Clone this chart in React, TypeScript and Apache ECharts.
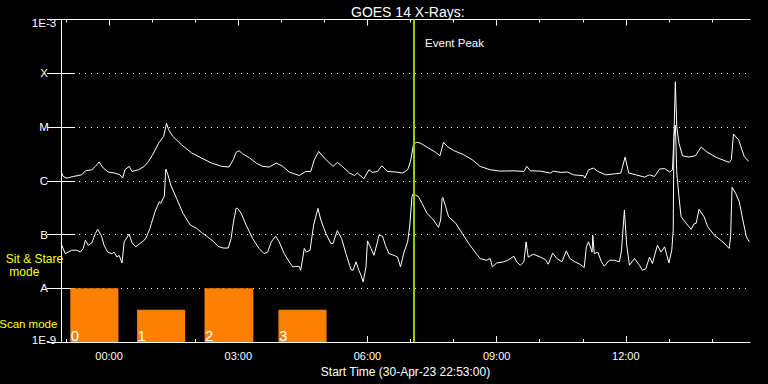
import React, { useEffect, useRef } from 'react';
import * as echarts from 'echarts';

const FONT = "'Liberation Sans', Arial, sans-serif";
const TITLE = 'GOES 14 X-Rays:';
const X_NAME = 'Start Time (30-Apr-23 22:53:00)';
const EVENT_LABEL = 'Event Peak';

// time is expressed in minutes after the start time (30-Apr-23 22:53:00)
const X_MIN = 0;
const X_MAX = 960;
const hourTicks = [7, 67, 127, 187, 247, 307, 367, 427, 487, 547, 607, 667, 727, 787, 847, 907];
const majorTicks = [67, 247, 427, 607, 787];
const majorTickLabels = ['00:00', '03:00', '06:00', '09:00', '12:00'];

const yTickLabels = ['1E-9', 'A', 'B', 'C', 'M', 'X', '1E-3'];

const eventPeak = 492;

// long channel (1-8 A), W/m^2
const longTimes = [
  0, 3, 8, 17, 29, 34, 43, 48, 53, 59, 66, 75, 82, 86, 89, 95, 99, 108, 116, 122,
  129, 136, 143, 147, 150, 156, 168, 182, 196, 210, 224, 234, 240, 244, 248, 253, 263, 272, 281, 290,
  300, 309, 318, 332, 341, 348, 353, 359, 367, 379, 385, 392, 402, 409, 413, 422, 429, 434, 441, 447,
  455, 467, 476, 483, 487, 491, 495, 501, 512, 522, 528, 533, 538, 547, 561, 573, 584, 598, 612, 631,
  645, 649, 654, 668, 682, 686, 696, 706, 714, 728, 730, 735, 742, 748, 759, 773, 780, 786, 791, 801,
  813, 820, 827, 834, 841, 848, 852, 854, 856, 858, 861, 866, 875, 884, 892, 899, 912, 931, 934, 937,
  944, 952, 958,
];
const longFlux = [
  1.5e-6, 1.2e-6, 1.12e-6, 1.2e-6, 1.29e-6, 1.53e-6, 1.6e-6, 1.85e-6, 2.23e-6, 1.72e-6,
  1.45e-6, 1.39e-6, 1.29e-6, 1.12e-6, 1.6e-6, 1.85e-6, 1.49e-6, 1.6e-6, 1.85e-6, 2.29e-6,
  3.28e-6, 5.0e-6, 6.67e-6, 1.17e-5, 8.88e-6, 6.67e-6, 4.67e-6, 3.28e-6, 2.64e-6, 2.13e-6,
  1.85e-6, 1.8e-6, 2.46e-6, 3.37e-6, 3.62e-6, 3.18e-6, 2.64e-6, 2.13e-6, 1.85e-6, 1.8e-6,
  2.13e-6, 1.85e-6, 1.45e-6, 1.25e-6, 1.49e-6, 1.49e-6, 2.46e-6, 3.51e-6, 2.64e-6, 1.85e-6,
  2.19e-6, 1.85e-6, 1.39e-6, 1.25e-6, 1.39e-6, 1.09e-6, 1.6e-6, 1.43e-6, 1.49e-6, 1.9e-6,
  1.49e-6, 1.45e-6, 1.39e-6, 1.6e-6, 2.29e-6, 4.67e-6, 5.2e-6, 5.0e-6, 4.06e-6, 3.37e-6,
  2.92e-6, 5.2e-6, 4.35e-6, 3.66e-6, 3.05e-6, 2.46e-6, 1.85e-6, 1.6e-6, 1.51e-6, 1.53e-6,
  1.49e-6, 1.85e-6, 1.53e-6, 1.51e-6, 1.39e-6, 1.51e-6, 1.43e-6, 1.45e-6, 1.29e-6, 1.24e-6,
  1.12e-6, 1.6e-6, 1.72e-6, 1.49e-6, 1.29e-6, 1.35e-6, 1.39e-6, 2.76e-6, 1.39e-6, 1.29e-6,
  1.17e-6, 1.29e-6, 1.2e-6, 1.65e-6, 1.69e-6, 1.45e-6, 1.6e-6, 6.67e-6, 6.95e-5, 1.0e-5,
  5.0e-6, 2.92e-6, 2.76e-6, 2.92e-6, 4.24e-6, 3.51e-6, 2.76e-6, 2.19e-6, 2.46e-6, 7.4e-6,
  5.79e-6, 2.83e-6, 2.29e-6,
];

// short channel (0.5-4 A), W/m^2
const shortTimes = [
  0, 6, 10, 15, 22, 27, 31, 34, 38, 43, 48, 51, 56, 60, 65, 71, 74, 78, 81, 85,
  88, 95, 99, 104, 110, 116, 119, 124, 126, 131, 134, 137, 139, 144, 146, 149, 153, 161, 170, 180,
  189, 196, 203, 212, 219, 226, 233, 237, 240, 244, 246, 251, 258, 267, 276, 283, 288, 293, 299, 304,
  311, 318, 323, 327, 332, 334, 339, 342, 347, 352, 358, 362, 369, 376, 379, 385, 391, 397, 404, 407,
  411, 415, 418, 421, 425, 427, 432, 436, 441, 443, 448, 452, 457, 464, 469, 473, 478, 483, 486, 489,
  491, 494, 498, 503, 510, 519, 526, 529, 531, 532, 536, 540, 550, 559, 568, 577, 584, 593, 598, 601,
  607, 617, 624, 631, 635, 640, 645, 648, 651, 658, 668, 675, 679, 685, 691, 698, 704, 709, 716, 723,
  729, 732, 735, 740, 741, 743, 748, 753, 757, 764, 771, 778, 781, 785, 788, 792, 799, 806, 810, 815,
  820, 824, 831, 836, 841, 847, 851, 853, 854, 856, 858, 861, 864, 871, 878, 882, 885, 889, 896, 901,
  910, 922, 931, 933, 935, 940, 945, 950, 955, 959,
];
const shortFlux = [
  6.8e-8, 4.4e-8, 4.7e-8, 5.1e-8, 5.1e-8, 4.7e-8, 5.5e-8, 7.8e-8, 6.3e-8, 7.0e-8,
  1.05e-7, 1.25e-7, 9.7e-8, 6.3e-8, 4.7e-8, 4.4e-8, 4.7e-8, 3.8e-8, 4.1e-8, 2.95e-8,
  7.3e-8, 1.02e-7, 7.0e-8, 5.9e-8, 6.8e-8, 7.8e-8, 9.0e-8, 1.3e-7, 1.62e-7, 2.65e-7,
  3.3e-7, 4.08e-7, 3.8e-7, 5.2e-7, 1.65e-6, 1.29e-6, 8.3e-7, 4.7e-7, 2.48e-7, 1.5e-7,
  1.3e-7, 1.08e-7, 9.3e-8, 7.5e-8, 6.0e-8, 5.6e-8, 5.6e-8, 8.4e-8, 1.62e-7, 3.07e-7,
  3.07e-7, 2.48e-7, 1.5e-7, 8.4e-8, 5.5e-8, 4.4e-8, 4.7e-8, 7.3e-8, 9.3e-8, 7.3e-8,
  4.4e-8, 3.1e-8, 2.5e-8, 2.55e-8, 2.55e-8, 2.16e-8, 5.5e-8, 4.7e-8, 5.1e-8, 1.5e-7,
  3.07e-7, 1.86e-7, 1.05e-7, 6.8e-8, 6.8e-8, 1.18e-7, 8.4e-8, 4.4e-8, 2.23e-8, 2.16e-8,
  3.1e-8, 2.16e-8, 1.75e-8, 1.31e-8, 2.5e-8, 7.6e-8, 5.5e-8, 4.1e-8, 7.3e-8, 9.7e-8,
  9.3e-8, 6.3e-8, 4.4e-8, 4.1e-8, 3.8e-8, 2.5e-8, 4.7e-8, 7.3e-8, 1.5e-7, 5.05e-7,
  5.85e-7, 5.4e-7, 5.05e-7, 3.8e-7, 2.48e-7, 1.86e-7, 1.36e-7, 1.86e-7, 4.7e-7, 4.9e-7,
  3.3e-7, 2.14e-7, 1.62e-7, 1.05e-7, 6.8e-8, 4.7e-8, 3.57e-8, 3.32e-8, 3.57e-8, 2.5e-8,
  2.95e-8, 3.1e-8, 3.4e-8, 3.94e-8, 3.1e-8, 2.68e-8, 3.1e-8, 7.3e-8, 3.8e-8, 4.29e-8,
  3.8e-8, 3.4e-8, 2.8e-8, 4.5e-8, 3.57e-8, 3.1e-8, 4.95e-8, 3.57e-8, 3.1e-8, 2.8e-8,
  2.43e-8, 5.9e-8, 7.3e-8, 4.7e-8, 9.7e-8, 4.4e-8, 4.7e-8, 3.1e-8, 2.57e-8, 3.32e-8,
  3.32e-8, 3.1e-8, 5.1e-8, 2.86e-7, 6.8e-8, 2.68e-8, 3.57e-8, 2.68e-8, 2.16e-8, 2.32e-8,
  3.8e-8, 2.88e-8, 6.3e-8, 4.7e-8, 5.9e-8, 2.95e-8, 5.1e-8, 1.2e-7, 6.67e-6, 1.09e-5,
  1.39e-6, 5.05e-7, 2.14e-7, 1.62e-7, 1.25e-7, 1.57e-7, 1.62e-7, 2.94e-7, 2.14e-7, 1.4e-7,
  9.8e-8, 7.3e-8, 5.5e-8, 9.0e-8, 7.55e-7, 5.85e-7, 4.08e-7, 1.86e-7, 9.0e-8, 7.3e-8,
];

// scan mode blocks
const scanStart = [13, 106, 200, 303];
const scanEnd = [80, 173, 268, 370];
const scanLevel = [1e-8, 4e-9, 1e-8, 4e-9];
const scanLabels = ['0', '1', '2', '3'];

const WHITE = '#ffffff';
const ORANGE = '#ff8000';
const GREEN = '#99cc00';
const YELLOW = '#ffff00';

export default function App() {
  const ref = useRef<HTMLDivElement>(null);

  useEffect(() => {
    if (!ref.current) return;
    const chart = echarts.init(ref.current, null, { renderer: 'svg' });

    const xBase = {
      type: 'value',
      min: X_MIN,
      max: X_MAX,
      splitLine: { show: false },
    };

    const option: any = {
      animation: false,
      backgroundColor: '#000000',
      title: {
        text: TITLE,
        left: 346,
        top: 0,
        textStyle: { color: WHITE, fontSize: 14, fontWeight: 'normal', fontFamily: FONT },
      },
      grid: { left: 61, right: 18, top: 19.5, bottom: 42, containLabel: false, outerBoundsMode: 'none' },
      xAxis: [
        {
          ...xBase,
          position: 'bottom',
          name: X_NAME,
          nameLocation: 'middle',
          nameGap: 18,
          nameTextStyle: { color: WHITE, fontSize: 12, fontFamily: FONT },
          axisLine: { show: true, lineStyle: { color: WHITE, width: 1 } },
          axisTick: { show: true, inside: true, length: 6, customValues: majorTicks, lineStyle: { color: WHITE } },
          axisLabel: {
            show: true,
            customValues: majorTicks,
            margin: 8,
            color: WHITE,
            fontSize: 11,
            fontFamily: FONT,
            formatter: (v: number) => majorTickLabels[majorTicks.indexOf(Math.round(v))] ?? '',
          },
        },
        {
          ...xBase,
          position: 'bottom',
          axisLine: { show: false },
          axisTick: { show: true, inside: true, length: 3, customValues: hourTicks, lineStyle: { color: WHITE } },
          axisLabel: { show: false },
        },
        {
          ...xBase,
          position: 'top',
          axisLine: { show: true, lineStyle: { color: WHITE, width: 1 } },
          axisTick: { show: true, inside: true, length: 6, customValues: majorTicks, lineStyle: { color: WHITE } },
          axisLabel: { show: false },
        },
        {
          ...xBase,
          position: 'top',
          axisLine: { show: false },
          axisTick: { show: true, inside: true, length: 3, customValues: hourTicks, lineStyle: { color: WHITE } },
          axisLabel: { show: false },
        },
      ],
      yAxis: [
        {
          type: 'log',
          logBase: 10,
          min: 1e-9,
          max: 1e-3,
          interval: 1,
          position: 'left',
          axisLine: { show: true, lineStyle: { color: WHITE, width: 1 } },
          axisTick: { show: true, inside: true, length: 14, lineStyle: { color: WHITE } },
          axisLabel: {
            show: true,
            color: WHITE,
            fontSize: 11.5,
            fontFamily: FONT,
            align: 'center',
            margin: 17,
            formatter: (v: number) => {
              const i = Math.round(Math.log10(v)) + 9;
              const t = yTickLabels[i] ?? '';
              if (i === yTickLabels.length - 1) return '{top|' + t + '}';
              if (i === 0) return '{bot|' + t + '}';
              return t;
            },
            rich: {
              top: { color: WHITE, fontSize: 11.5, fontFamily: FONT, padding: [7, 0, 0, 0] },
              bot: { color: WHITE, fontSize: 11.5, fontFamily: FONT, padding: [0, 0, 4, 0] },
            },
          },
          splitLine: { show: true, lineStyle: { color: WHITE, width: 1, type: [1, 5] } },
        },
        {
          type: 'log',
          logBase: 10,
          min: 1e-9,
          max: 1e-3,
          interval: 1,
          position: 'right',
          axisLine: { show: true, lineStyle: { color: WHITE, width: 1 } },
          axisTick: { show: true, inside: true, length: 14, lineStyle: { color: WHITE } },
          axisLabel: { show: false },
          splitLine: { show: false },
        },
      ],
      series: [
        {
          type: 'custom',
          name: 'scan',
          xAxisIndex: 0,
          yAxisIndex: 0,
          encode: { x: [0, 1], y: 2 },
          data: scanStart.map((s, i) => [s, scanEnd[i], scanLevel[i]]),
          renderItem: (params: any, api: any) => {
            const p0 = api.coord([api.value(0), api.value(2)]);
            const p1 = api.coord([api.value(1), 1e-9]);
            return {
              type: 'group',
              children: [
                {
                  type: 'rect',
                  shape: { x: p0[0], y: p0[1], width: p1[0] - p0[0], height: p1[1] - p0[1] },
                  style: { fill: ORANGE },
                },
                {
                  type: 'text',
                  style: {
                    text: scanLabels[params.dataIndex],
                    x: p0[0] + 0.5,
                    y: p1[1] + 1,
                    fill: WHITE,
                    fontSize: 15,
                    fontFamily: FONT,
                    align: 'left',
                    verticalAlign: 'bottom',
                  },
                },
              ],
            };
          },
        },
        {
          type: 'line',
          name: 'long',
          xAxisIndex: 0,
          yAxisIndex: 0,
          showSymbol: false,
          symbol: 'none',
          lineStyle: { color: WHITE, width: 1 },
          data: longTimes.map((t, i) => [t, longFlux[i]]),
          markLine: {
            silent: true,
            symbol: 'none',
            label: { show: false },
            lineStyle: { color: GREEN, width: 2, type: 'solid' },
            data: [{ xAxis: eventPeak }],
          },
        },
        {
          type: 'line',
          name: 'short',
          xAxisIndex: 0,
          yAxisIndex: 0,
          showSymbol: false,
          symbol: 'none',
          lineStyle: { color: WHITE, width: 1 },
          data: shortTimes.map((t, i) => [t, shortFlux[i]]),
        },
      ],
    };

    chart.setOption(option);

    const peakX = chart.convertToPixel({ xAxisIndex: 0 }, eventPeak) as number;
    chart.setOption({
      graphic: [
        {
          type: 'text',
          x: peakX + 11,
          y: 42.5,
          style: { text: EVENT_LABEL, fill: WHITE, fontSize: 11.5, fontFamily: FONT, verticalAlign: 'middle' },
        },
        {
          type: 'text',
          x: 34.5,
          y: 258.5,
          style: { text: 'Sit & Stare', fill: YELLOW, fontSize: 12, fontFamily: FONT, align: 'center', verticalAlign: 'middle' },
        },
        {
          type: 'text',
          x: 24.3,
          y: 271.5,
          style: { text: 'mode', fill: YELLOW, fontSize: 12, fontFamily: FONT, align: 'center', verticalAlign: 'middle' },
        },
        {
          type: 'text',
          x: 28.3,
          y: 323.5,
          style: { text: 'Scan mode', fill: YELLOW, fontSize: 11.5, fontFamily: FONT, align: 'center', verticalAlign: 'middle' },
        },
      ],
    });

    return () => chart.dispose();
  }, []);

  return (
    <div
      ref={ref}
      style={{ position: 'fixed', left: 0, top: 0, width: 768, height: 384, background: '#000' }}
    />
  );
}
